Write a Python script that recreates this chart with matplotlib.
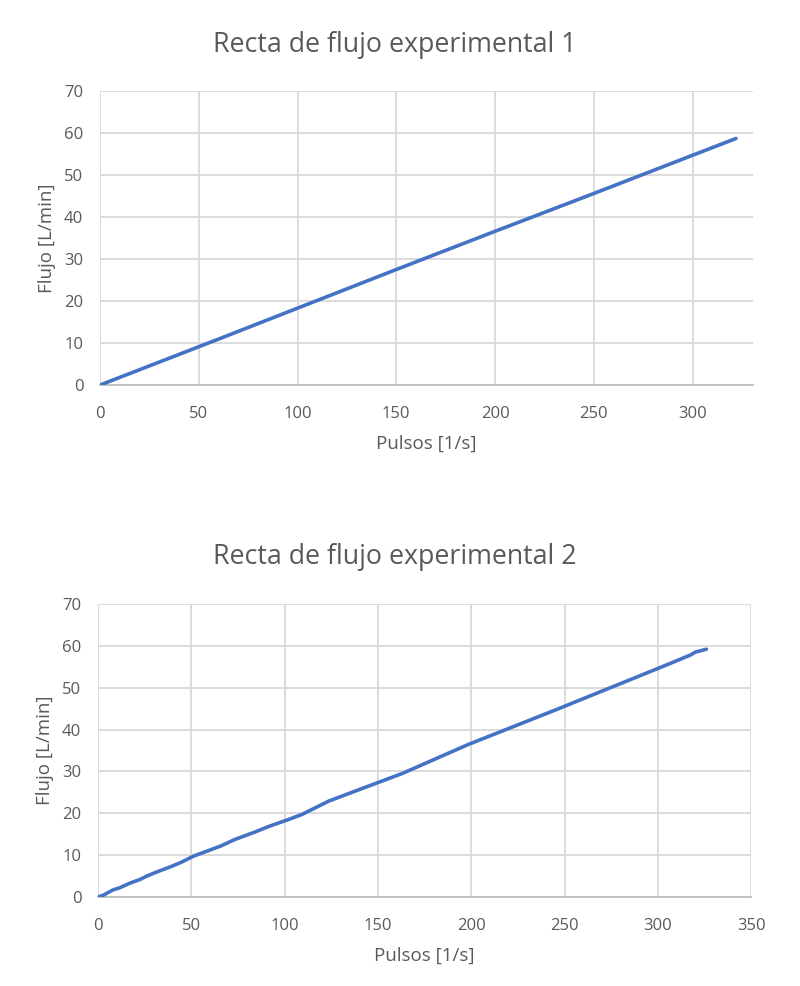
import matplotlib
matplotlib.use("Agg")
import matplotlib.pyplot as plt

plt.rcParams['font.family'] = ['Open Sans', 'DejaVu Sans']

# Data
titles = ["Recta de flujo experimental 1", "Recta de flujo experimental 2"]
x_label = "Pulsos [1/s]"
y_label = "Flujo [L/min]"

pulsos_1 = [0, 28, 62, 75, 150, 200, 250, 300, 322]
flujo_1 = [0, 5.1, 11.3, 13.7, 27.5, 36.6, 45.6, 54.7, 58.7]

pulsos_2 = [0, 2.7, 8.1, 11.7, 17.1, 22.6, 26.2, 31.6, 38.8, 44.2, 51.4, 58.7,
            65.9, 73.1, 84, 91.2, 102, 109.2, 112.8, 123.6, 142.6, 163, 198.2,
            246.3, 300, 317.4, 320, 326]
flujo_2 = [0, 0.4, 1.7, 2.2, 3.3, 4.2, 5.0, 6.0, 7.2, 8.2, 9.8, 11.0,
           12.2, 13.7, 15.5, 16.8, 18.5, 19.7, 20.5, 22.9, 26.1, 29.5, 36.4,
           44.9, 54.6, 57.8, 58.5, 59.2]

x_ticks_1 = [0, 50, 100, 150, 200, 250, 300]
x_ticks_2 = [0, 50, 100, 150, 200, 250, 300, 350]
y_ticks = [0, 10, 20, 30, 40, 50, 60, 70]

LINE = "#4472C4"
GRID = "#D9D9D9"
TXT = "#595959"

fig = plt.figure(figsize=(8, 9.86), dpi=100)

ax1 = fig.add_axes([0.125, 0.6095, 0.816, 0.2982])
ax2 = fig.add_axes([0.1225, 0.0903, 0.8165, 0.2971])

configs = [
    (ax1, pulsos_1, flujo_1, x_ticks_1, 330.5, titles[0], 0.954),
    (ax2, pulsos_2, flujo_2, x_ticks_2, 350, titles[1], 0.435),
]

for ax, xs, ys, xt, xmax, title, ty in configs:
    ax.plot(xs, ys, color=LINE, lw=2.6, solid_capstyle='round', zorder=3)
    ax.set_xlim(0, xmax)
    ax.set_ylim(0, 70)
    ax.set_xticks(xt)
    ax.set_yticks(y_ticks)
    ax.grid(True, color=GRID, lw=1.3, zorder=0)
    for s in ['top', 'right', 'left']:
        ax.spines[s].set_visible(False)
    ax.spines['bottom'].set_color('#BFBFBF')
    ax.spines['bottom'].set_linewidth(1.3)
    ax.tick_params(axis='both', length=0, colors=TXT, labelsize=12)
    ax.tick_params(axis='x', pad=15)
    ax.tick_params(axis='y', pad=12)
    ax.set_xlabel(x_label, color=TXT, fontsize=13.5, labelpad=9)
    ax.set_ylabel(y_label, color=TXT, fontsize=13.5, labelpad=6)
    ax.set_axisbelow(True)
    fig.text(0.494, ty, title, ha='center', va='center', color=TXT, fontsize=19.3)

fig.savefig("out.png", dpi=100, facecolor='white')
